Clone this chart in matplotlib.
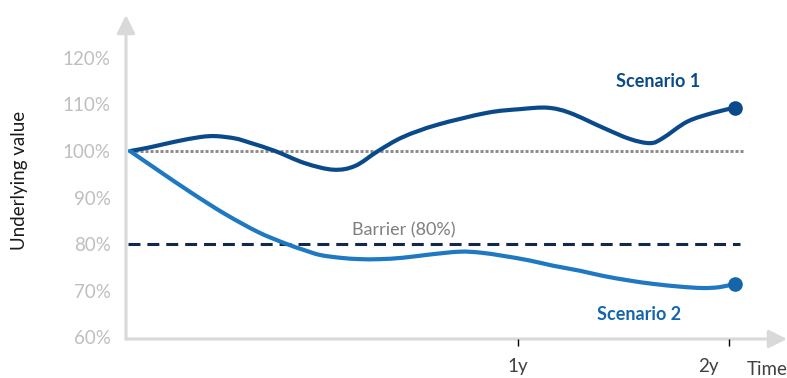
import matplotlib
matplotlib.use("Agg")
import matplotlib.pyplot as plt
from matplotlib import transforms
from matplotlib.path import Path
from matplotlib.patches import PathPatch

plt.rcParams["font.family"] = ["Lato", "DejaVu Sans"]
plt.rcParams["lines.scale_dashes"] = False

# Time index (0 = start, 100 = maturity) and underlying level in %
s1_time = [0, 3.3, 7.4, 11.6, 14.2, 17.4, 19.8, 24.0, 28.9, 33.6, 37.2, 41.0,
           45.1, 50.7, 59.0, 64.5, 69.0, 72.7, 78.2, 82.6, 86.0, 88.1, 92.1, 96.4, 100]
s1_value = [100.0, 100.8, 102.0, 103.0, 103.2, 102.7, 101.8, 100.0, 97.4, 96.0,
            96.8, 100.0, 103.0, 105.6, 108.2, 109.0, 109.3, 108.2, 105.0, 102.6,
            101.7, 102.8, 106.3, 108.2, 109.3]

s2_time = [0, 4.6, 10.2, 15.7, 21.2, 25.6, 28.9, 31.4, 34.7, 38.0, 41.3,
           45.1, 49.6, 54.5, 57.9, 61.7, 66.1, 69.9, 74.4, 78.2, 82.6, 86.4,
           90.9, 94.7, 97.5, 100]
s2_value = [100.0, 95.9, 91.0, 86.5, 82.6, 80.2, 78.7, 77.7, 77.1, 76.8, 76.8,
            77.1, 77.8, 78.4, 78.2, 77.5, 76.5, 75.4, 74.3, 73.2, 72.2,
            71.5, 70.9, 70.6, 70.8, 71.5]

barrier = 80
initial_level = 100

y_ticks = [60, 70, 80, 90, 100, 110, 120]
y_tick_labels = ["60%", "70%", "80%", "90%", "100%", "110%", "120%"]
x_ticks = [64.1, 99.0]
x_tick_labels = ["1y", "2y"]

C_S1 = "#0B4A8A"
C_S2 = "#1E78C2"
C_S2_END = "#1565AB"
C_BARRIER = "#14284B"
C_AXIS = "#D9D9D9"


def smooth_path(xs, ys):
    """Cubic Bezier path passing through every (x, y) point (Catmull-Rom tangents)."""
    verts = [(xs[0], ys[0])]
    codes = [Path.MOVETO]
    n = len(xs)
    for i in range(n - 1):
        x0, y0 = (xs[i - 1], ys[i - 1]) if i > 0 else (xs[i], ys[i])
        x1, y1 = xs[i], ys[i]
        x2, y2 = xs[i + 1], ys[i + 1]
        x3, y3 = (xs[i + 2], ys[i + 2]) if i + 2 < n else (x2, y2)
        c1 = (x1 + (x2 - x0) / 6, y1 + (y2 - y0) / 6)
        c2 = (x2 - (x3 - x1) / 6, y2 - (y3 - y1) / 6)
        verts += [c1, c2, (x2, y2)]
        codes += [Path.CURVE4] * 3
    return Path(verts, codes)


W, H = 787, 378
fig = plt.figure(figsize=(W / 100, H / 100), dpi=100)
ax = fig.add_axes([126 / W, (H - 339) / H, (W - 126) / W, (339 - 15) / H])
ax.set_xlim(-0.66, 108.6)
ax.set_ylim(59.66, 129.2)
for sp in ax.spines.values():
    sp.set_visible(False)
ax.patch.set_alpha(0)

# axis arrows
arrow = dict(arrowstyle="-|>,head_length=1.1,head_width=0.55", color=C_AXIS,
             lw=2.2, mutation_scale=10, shrinkA=0, shrinkB=0)
ax.annotate("", xy=(0, 1), xytext=(0, 0), xycoords="axes fraction",
            textcoords="axes fraction", arrowprops=arrow, zorder=1)
ax.annotate("", xy=(1, 0), xytext=(0, 0), xycoords="axes fraction",
            textcoords="axes fraction", arrowprops=arrow, zorder=1)

# reference levels
ax.plot([0, 101.5], [initial_level, initial_level], color="#8C8C8C", lw=2.1,
        dashes=(2.2, 1.4), zorder=2)
ax.plot([-0.3, 100.8], [barrier, barrier], color=C_BARRIER, lw=2.2,
        dashes=(8.6, 5.0), zorder=2)
ax.text(45.3, barrier + 1.2, "Barrier (80%)", color="#7F7F7F", fontsize=13,
        ha="center", va="bottom")

# scenarios
for xs, ys, col, end_col in [(s1_time, s1_value, C_S1, C_S1),
                             (s2_time, s2_value, C_S2, C_S2_END)]:
    ax.add_patch(PathPatch(smooth_path(xs, ys), facecolor="none", edgecolor=col,
                           lw=3, capstyle="round", joinstyle="round", zorder=3))
    ax.plot(xs[-1], ys[-1], "o", color=end_col, ms=9.5, zorder=4)

ax.text(87.3, 115.0, "Scenario 1", color=C_S1, fontsize=13, fontweight="bold",
        ha="center", va="center")
ax.text(84.1, 64.9, "Scenario 2", color=C_S2_END, fontsize=13, fontweight="bold",
        ha="center", va="center")

# ticks
ax.set_yticks(y_ticks)
ax.set_yticklabels(y_tick_labels, color="#BFBFBF", fontsize=13.5)
ax.tick_params(axis="y", length=0, pad=11)
ax.set_xticks(x_ticks)
ax.set_xticklabels(x_tick_labels, color="#404040", fontsize=13.5)
ax.tick_params(axis="x", length=5, width=1, color="#000000", pad=9,
               direction="out")
lbl2 = ax.get_xticklabels()[1]
lbl2.set_transform(lbl2.get_transform() +
                   transforms.ScaledTranslation(-21 / 100, 0, fig.dpi_scale_trans))

ax.text(105.3, 59.66, "Time", color="#404040", fontsize=13.5, ha="center",
        va="top",
        transform=ax.transData + transforms.ScaledTranslation(0, -22 / 100, fig.dpi_scale_trans))

fig.text(20 / W, 1 - 180 / H, "Underlying value", rotation=90, color="#1A1A1A",
         fontsize=13.5, ha="center", va="center")

fig.savefig("out.png", dpi=100)
